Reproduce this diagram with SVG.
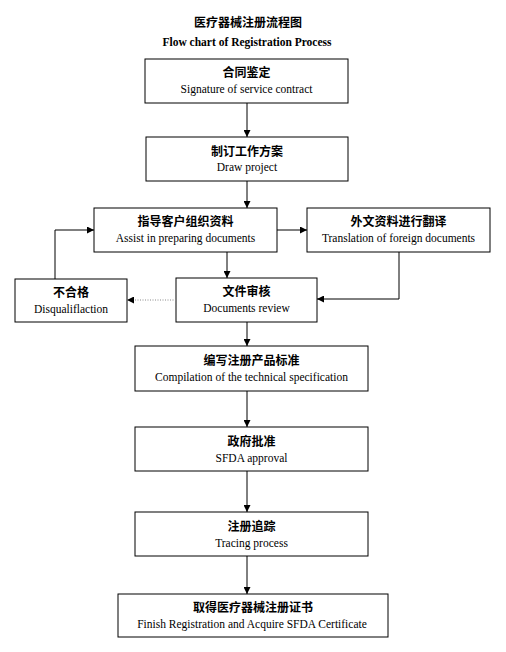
<svg xmlns="http://www.w3.org/2000/svg" width="506" height="652" viewBox="0 0 506 652">
<style>
.box{fill:#fff;stroke:#000;stroke-width:1}
.zh{font-family:"Noto Sans CJK SC","Noto Sans CJK JP",sans-serif;font-size:12px;font-weight:bold;text-anchor:middle;fill:#000}
.en{font-family:"Liberation Serif",serif;font-size:11.5px;text-anchor:middle;fill:#000}
.ttl{font-family:"Liberation Serif",serif;font-size:11.5px;font-weight:bold;text-anchor:middle;fill:#000}
.ln{fill:none;stroke:#000;stroke-width:1}
.dot{fill:none;stroke:#888;stroke-width:1;stroke-dasharray:1 1.5}
</style>
<defs>
<marker id="ah" viewBox="0 0 10 10" refX="10" refY="5" markerWidth="7" markerHeight="7" markerUnits="userSpaceOnUse" orient="auto">
<path d="M0,0 L10,5 L0,10 z" fill="#000"/>
</marker>
</defs>
<rect width="506" height="652" fill="#fff"/>
<g id="title">
<text class="zh" x="248" y="27">医疗器械注册流程图</text>
<text class="ttl" x="247" y="46">Flow chart of Registration Process</text>
</g>
<g id="n1"><rect class="box" x="145" y="59" width="203" height="44"/><text class="zh" x="246.5" y="77">合同鉴定</text><text class="en" x="246.5" y="93">Signature of service contract</text></g>
<g id="n2"><rect class="box" x="146" y="137" width="202" height="44"/><text class="zh" x="247" y="156">制订工作方案</text><text class="en" x="247" y="171">Draw project</text></g>
<g id="n3"><rect class="box" x="94" y="208" width="183" height="44"/><text class="zh" x="185.5" y="226">指导客户组织资料</text><text class="en" x="185.5" y="242">Assist in preparing documents</text></g>
<g id="n4"><rect class="box" x="307" y="208" width="183" height="44"/><text class="zh" x="398.5" y="226">外文资料进行翻译</text><text class="en" x="398.5" y="242">Translation of foreign documents</text></g>
<g id="n5"><rect class="box" x="15" y="279" width="112" height="43"/><text class="zh" x="71" y="297">不合格</text><text class="en" x="71" y="313">Disqualiflaction</text></g>
<g id="n6"><rect class="box" x="176" y="278" width="141" height="44"/><text class="zh" x="246.5" y="296">文件审核</text><text class="en" x="246.5" y="312">Documents review</text></g>
<g id="n7"><rect class="box" x="135" y="346" width="233" height="45"/><text class="zh" x="251.5" y="365">编写注册产品标准</text><text class="en" x="251.5" y="381">Compilation of the technical specification</text></g>
<g id="n8"><rect class="box" x="135" y="427" width="233" height="44"/><text class="zh" x="251.5" y="446">政府批准</text><text class="en" x="251.5" y="462">SFDA approval</text></g>
<g id="n9"><rect class="box" x="135" y="512" width="233" height="44"/><text class="zh" x="251.5" y="531">注册追踪</text><text class="en" x="251.5" y="547">Tracing process</text></g>
<g id="n10"><rect class="box" x="118" y="594" width="270" height="43"/><text class="zh" x="253" y="612">取得医疗器械注册证书</text><text class="en" x="252" y="628">Finish Registration and Acquire SFDA Certificate</text></g>
<g id="connectors">
<line class="ln" x1="247" y1="103" x2="247" y2="137" marker-end="url(#ah)"/>
<line class="ln" x1="247" y1="181" x2="247" y2="208" marker-end="url(#ah)"/>
<line class="ln" x1="277" y1="230" x2="307" y2="230" marker-end="url(#ah)"/>
<line class="ln" x1="227" y1="252" x2="227" y2="278" marker-end="url(#ah)"/>
<polyline class="ln" points="399,252 399,299 317,299" marker-end="url(#ah)"/>
<line class="dot" x1="176" y1="300" x2="127" y2="300" marker-end="url(#ah)"/>
<polyline class="ln" points="55,279 55,230 94,230" marker-end="url(#ah)"/>
<line class="ln" x1="247" y1="322" x2="247" y2="346" marker-end="url(#ah)"/>
<line class="ln" x1="247" y1="391" x2="247" y2="427" marker-end="url(#ah)"/>
<line class="ln" x1="247" y1="471" x2="247" y2="512" marker-end="url(#ah)"/>
<line class="ln" x1="247" y1="556" x2="247" y2="594" marker-end="url(#ah)"/>
</g>
</svg>
